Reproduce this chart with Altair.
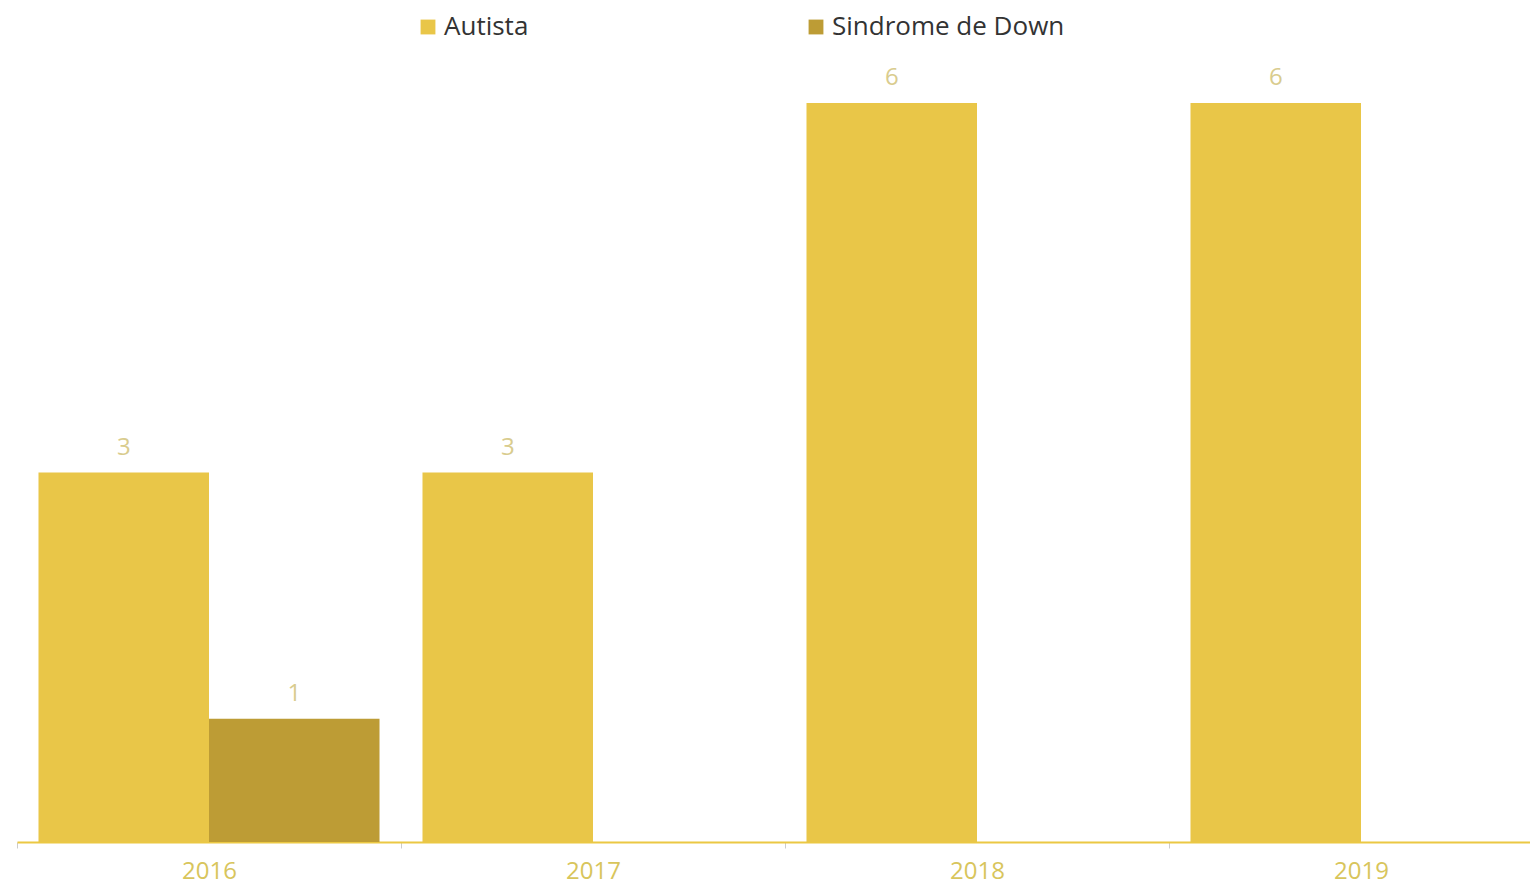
import altair as alt
import pandas as pd

years = ["2016", "2017", "2018", "2019"]
series = ["Autista", "Sindrome de Down"]
autista = [3, 3, 6, 6]
down = [1, 0, 0, 0]
colors = ["#E9C648", "#BD9C35"]

rows = []
for i, y in enumerate(years):
    rows.append({"year": y, "series": series[0], "value": autista[i]})
    rows.append({"year": y, "series": series[1], "value": down[i]})
df = pd.DataFrame(rows)

FONT = "Open Sans"

x = alt.X("year:N", sort=years, title=None,
          scale=alt.Scale(range=[0, 1536], paddingInner=0, paddingOuter=0),
          axis=alt.Axis(labelAngle=0, labelFontSize=24, labelColor="#D8C55C",
                        labelFont=FONT, labelPadding=11, tickBand="extent",
                        tickSize=6, tickColor="#CCCCCC", domainColor="#EBC843",
                        domainWidth=2, grid=False))
xo = alt.XOffset("series:N", sort=series,
                 scale=alt.Scale(domain=series, paddingInner=0, paddingOuter=0.126))
y = alt.Y("value:Q", scale=alt.Scale(domain=[0, 6], nice=False), axis=None)

bars = alt.Chart(df).mark_bar().encode(
    x=x, xOffset=xo, y=y,
    color=alt.Color("series:N", sort=series,
                    scale=alt.Scale(domain=series, range=colors),
                    legend=alt.Legend(title=None, orient="none", direction="horizontal",
                                      legendX=398, legendY=-89, columns=2,
                                      columnPadding=274, symbolType="square",
                                      symbolSize=220, symbolStrokeWidth=0,
                                      labelFontSize=26, labelFont=FONT,
                                      labelColor="#333333", labelOffset=3,
                                      labelLimit=400))
)

labels = alt.Chart(df).transform_filter("datum.value > 0").mark_text(
    fontSize=24, font=FONT, color="#D9CC8E", baseline="middle", dy=-25
).encode(x=x, xOffset=xo, y=y, text="value:Q")

chart = alt.layer(bars, labels).properties(
    width=1513, height=739,
    autosize=alt.AutoSizeParams(type="none"),
    padding={"left": 9, "top": 95, "right": 0, "bottom": 45},
    background="white",
).configure_view(stroke=None)

chart.save("out.html", embed_options={"renderer": "svg", "actions": False})
